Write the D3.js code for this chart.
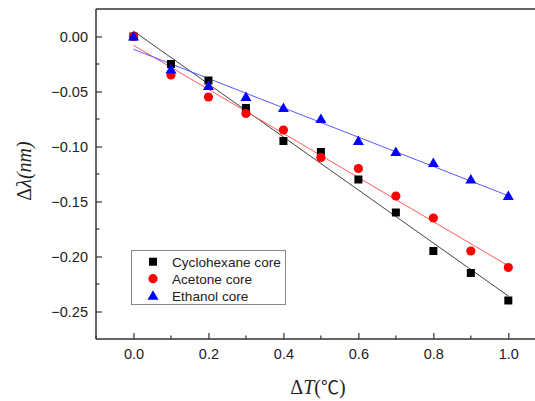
<!DOCTYPE html>
<html><head><meta charset="utf-8">
<script src="https://cdn.jsdelivr.net/npm/d3@7"></script>
<style>body{margin:0;background:#fff}svg{display:block}</style>
</head><body>
<svg id="c" width="535" height="401"></svg>
<script>
const xs = [0, 0.1, 0.2, 0.3, 0.4, 0.5, 0.6, 0.7, 0.8, 0.9, 1.0];
const cyclohexane = [0, -0.025, -0.04, -0.065, -0.095, -0.105, -0.13, -0.16, -0.195, -0.215, -0.24];
const acetone = [0, -0.035, -0.055, -0.07, -0.085, -0.11, -0.12, -0.145, -0.165, -0.195, -0.21];
const ethanol = [0, -0.03, -0.045, -0.055, -0.065, -0.075, -0.095, -0.105, -0.115, -0.13, -0.145];
const seriesNames = ["Cyclohexane core", "Acetone core", "Ethanol core"];
const xTicks = [0, 0.2, 0.4, 0.6, 0.8, 1.0];
const yTicks = [0, -0.05, -0.10, -0.15, -0.20, -0.25];

const svg = d3.select("#c");
const L = 96, R = 545.8, T = 9, B = 339;
const x = d3.scaleLinear().domain([-0.1, 1.1]).range([L, R]);
const y = d3.scaleLinear().domain([-0.275, 0.025]).range([B, T]);
const sans = "Arial, 'Liberation Sans', sans-serif";

const series = [
  {name: seriesNames[0], vals: cyclohexane, color: "#000", line: "#444", shape: "square"},
  {name: seriesNames[1], vals: acetone, color: "#ff0000", line: "#ff5a5a", shape: "circle"},
  {name: seriesNames[2], vals: ethanol, color: "#0000ff", line: "#5a5aff", shape: "triangle"}
];

function fit(vals) {
  const mx = d3.mean(xs), my = d3.mean(vals);
  let sxy = 0, sxx = 0;
  xs.forEach((v, i) => { sxy += (v - mx) * (vals[i] - my); sxx += (v - mx) ** 2; });
  const b = sxy / sxx; return {b, a: my - b * mx};
}

// frame
svg.append("line").attr("x1", L).attr("x2", R).attr("y1", T).attr("y2", T).attr("stroke", "#333").attr("stroke-width", 1.5);

// axes
const xAxis = d3.axisBottom(x).tickValues(xTicks).tickFormat(d3.format(".1f")).tickSizeInner(-6).tickSizeOuter(0).tickPadding(10);
const gx = svg.append("g").attr("transform", `translate(0,${B})`).call(xAxis);
const xMinor = d3.range(-0.1, 1.1, 0.1).map(v => +v.toFixed(2)).filter(v => !xTicks.some(t => Math.abs(t - v) < 1e-6));
svg.append("g").selectAll("line").data(xMinor).join("line")
  .attr("x1", d => x(d)).attr("x2", d => x(d)).attr("y1", B).attr("y2", B - 3.5).attr("stroke", "#333").attr("stroke-width", 1.2);

const yAxis = d3.axisLeft(y).tickValues(yTicks).tickFormat(d3.format(".2f")).tickSizeInner(-6).tickSizeOuter(0).tickPadding(8);
const gy = svg.append("g").attr("transform", `translate(${L},0)`).call(yAxis);
const yMinor = [-0.025, -0.075, -0.125, -0.175, -0.225];
svg.append("g").selectAll("line").data(yMinor).join("line")
  .attr("x1", L).attr("x2", L + 3.5).attr("y1", d => y(d)).attr("y2", d => y(d)).attr("stroke", "#333").attr("stroke-width", 1.2);

[gx, gy].forEach(g => {
  g.select(".domain").attr("stroke", "#333").attr("stroke-width", 1.5);
  g.selectAll(".tick line").attr("stroke", "#333").attr("stroke-width", 1.2);
  g.selectAll(".tick text").attr("font-family", sans).attr("font-size", 14.5).attr("fill", "#222");
});
gx.select(".domain").attr("d", `M${L},0H${R}`);
gy.select(".domain").attr("d", `M0,${T}V${B}`);

// fit lines
series.forEach(s => {
  const f = fit(s.vals);
  svg.append("line").attr("x1", x(0)).attr("y1", y(f.a)).attr("x2", x(1)).attr("y2", y(f.a + f.b))
    .attr("stroke", s.line).attr("stroke-width", 1);
});

function marker(g, shape, color, cx, cy) {
  if (shape === "square") g.append("rect").attr("x", cx - 4).attr("y", cy - 4).attr("width", 8).attr("height", 8).attr("fill", color);
  else if (shape === "circle") g.append("circle").attr("cx", cx).attr("cy", cy).attr("r", 4.6).attr("fill", color);
  else g.append("path").attr("d", `M${cx},${cy - 5.5}L${cx + 5.5},${cy + 4}L${cx - 5.5},${cy + 4}Z`).attr("fill", color);
}

series.forEach(s => {
  const g = svg.append("g");
  s.vals.forEach((v, i) => marker(g, s.shape, s.color, x(xs[i]), y(v)));
});

// legend
const lg = svg.append("g");
lg.append("rect").attr("x", 131.5).attr("y", 250.5).attr("width", 154).attr("height", 54).attr("fill", "#fff").attr("stroke", "#888").attr("stroke-width", 1);
series.forEach((s, i) => {
  const cy = 261.7 + i * 17;
  marker(lg, s.shape, s.color, 153, cy);
  lg.append("text").attr("x", 172).attr("y", cy + 4.8).attr("font-family", sans).attr("font-size", 13.6).attr("fill", "#222").text(s.name);
});

// axis titles
const xt = svg.append("text").attr("x", 318).attr("y", 394).attr("text-anchor", "middle")
  .attr("font-family", "'Liberation Serif', 'Times New Roman', serif").attr("font-size", 20).attr("fill", "#222");
xt.append("tspan").text("Δ");
xt.append("tspan").attr("font-style", "italic").text("T");
xt.append("tspan").text("(");
xt.append("tspan").attr("font-family", "'Noto Sans CJK SC', sans-serif").attr("font-size", 18).text("℃");
xt.append("tspan").text(")");

const yt = svg.append("text").attr("transform", `translate(31,171) rotate(-90)`).attr("text-anchor", "middle")
  .attr("font-family", "'Liberation Serif', 'Times New Roman', serif").attr("font-size", 20).attr("fill", "#222");
yt.append("tspan").text("Δ");
yt.append("tspan").attr("font-style", "italic").text("λ(nm)");
</script>
</body></html>
